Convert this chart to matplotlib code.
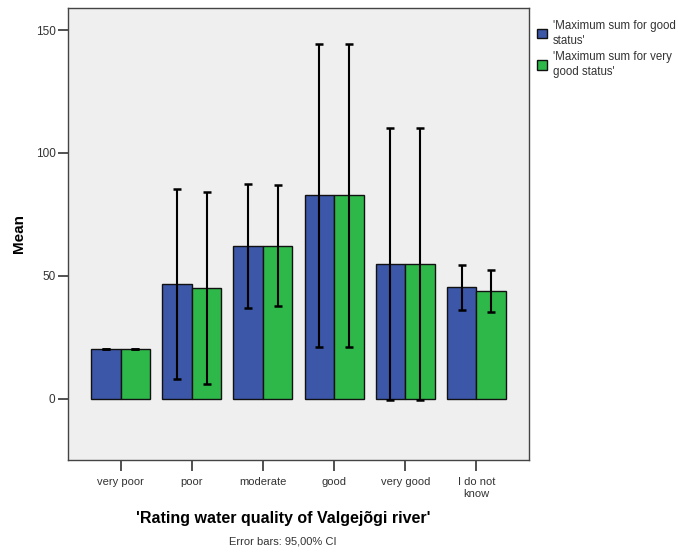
import numpy as np
import matplotlib
matplotlib.use('Agg')
import matplotlib.pyplot as plt

plt.rcParams['font.family'] = ['Liberation Sans', 'DejaVu Sans']

categories = ['very poor', 'poor', 'moderate', 'good', 'very good', 'I do not\nknow']
good_mean = [20.0, 46.7, 62.3, 82.7, 54.8, 45.4]
good_low = [20.0, 8.0, 36.9, 21.0, -0.5, 36.1]
good_high = [20.0, 85.5, 87.5, 144.5, 110.3, 54.4]
vgood_mean = [20.0, 45.2, 62.2, 82.7, 54.8, 43.9]
vgood_low = [20.0, 6.1, 37.5, 21.0, -0.5, 35.4]
vgood_high = [20.0, 84.3, 86.9, 144.5, 110.3, 52.4]
series_labels = ["'Maximum sum for good\nstatus'", "'Maximum sum for very\ngood status'"]

blue = '#3c56a8'
green = '#2eb84a'

fig = plt.figure(figsize=(6.78, 5.52), dpi=100)
ax = fig.add_axes([68 / 678, 1 - 460 / 552, (529 - 68) / 678, (460 - 8) / 552])
ax.set_facecolor('#efefef')

x = np.arange(len(categories))
w = 0.415

def draw(xpos, mean, low, high, color, label):
    ax.bar(xpos, mean, width=w, color=color, edgecolor='#111111', linewidth=1.0, label=label, zorder=2)
    mean = np.array(mean)
    yerr = [mean - np.array(low), np.array(high) - mean]
    ax.errorbar(xpos, mean, yerr=yerr, fmt='none', ecolor='black', elinewidth=1.5,
                capsize=3, capthick=1.8, zorder=3)

draw(x - w / 2, good_mean, good_low, good_high, blue, series_labels[0])
draw(x + w / 2, vgood_mean, vgood_low, vgood_high, green, series_labels[1])

ax.set_xlim(-0.74, len(categories) - 1 + 0.74)
ax.set_ylim(-25, 159)
ax.set_yticks([0, 50, 100, 150])
ax.set_xticks(x)
ax.set_xticklabels(categories, fontsize=8, color='#333333', linespacing=1.3)
ax.tick_params(axis='y', labelsize=8.5, colors='#333333', length=7, width=1.2, direction='out', pad=2)
ax.tick_params(axis='x', length=8, width=1.2, direction='out', pad=4, colors='#333333')
for s in ax.spines.values():
    s.set_color('#444444')
    s.set_linewidth(1.0)

ax.set_ylabel('Mean', fontsize=11, fontweight='bold')
ax.yaxis.set_label_coords((26 - 68) / 461, (460 - 233) / 452)
fig.text(283 / 678, 1 - 518 / 552, "'Rating water quality of Valgejõgi river'",
         fontsize=11.5, fontweight='bold', ha='center', va='center')
fig.text(283 / 678, 1 - 542 / 552, 'Error bars: 95,00% CI', fontsize=8,
         ha='center', va='center', color='#333333')

leg = fig.legend(loc='upper left', bbox_to_anchor=(532 / 678, 1 - 15 / 552), frameon=False,
                 fontsize=8.3, handlelength=0.9, handleheight=0.9, handletextpad=0.5,
                 labelspacing=0.35, borderaxespad=0)
for t in leg.get_texts():
    t.set_color('#333333')
    t.set_linespacing(1.35)

fig.savefig('out.png', dpi=100)
